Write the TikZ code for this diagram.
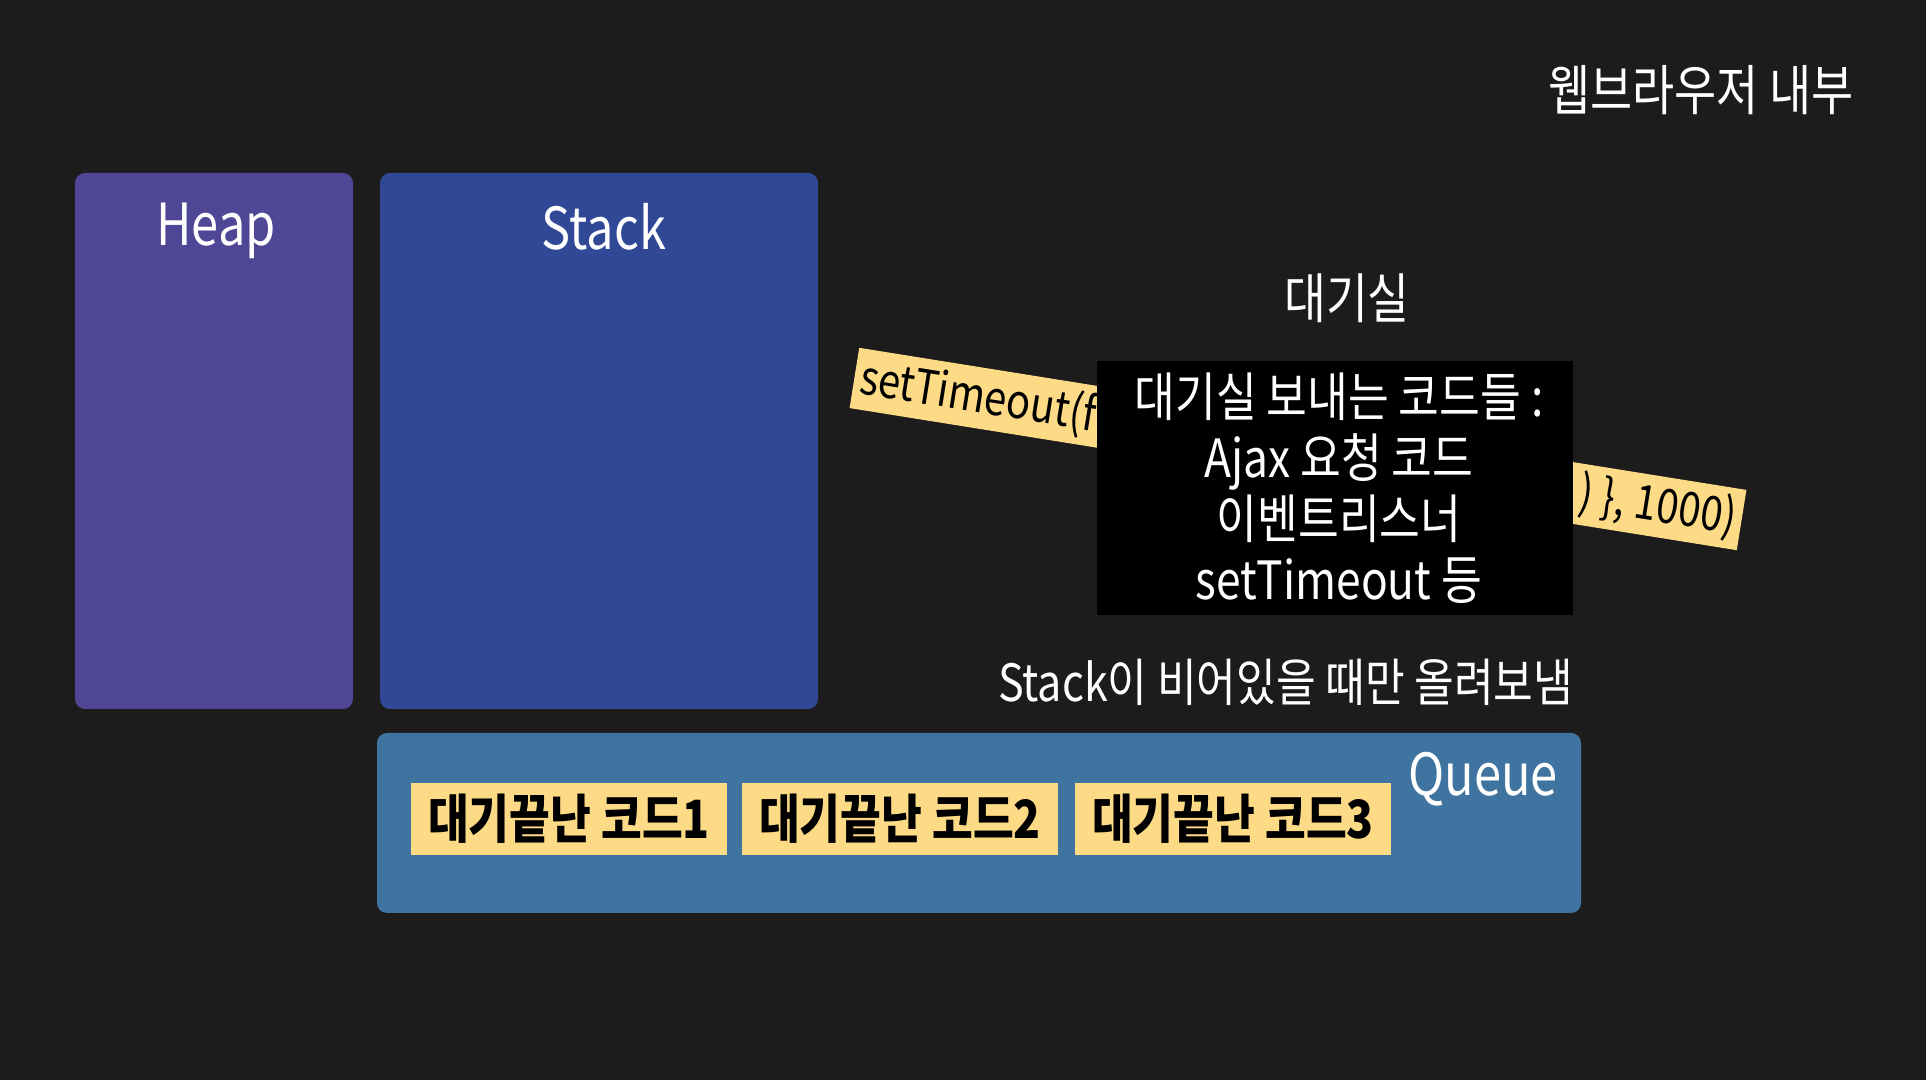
\documentclass[tikz,border=0pt]{standalone}
\usepackage{fontspec}
\setmainfont{Noto Sans CJK KR}[FakeStretch=0.84]
\usepackage{tikz}
\definecolor{bgdark}{HTML}{1C1C1C}
\definecolor{heapcol}{HTML}{4F4796}
\definecolor{stackcol}{HTML}{304896}
\definecolor{queuecol}{HTML}{3F74A0}
\definecolor{notecol}{HTML}{FDDB86}
\begin{document}
\begin{tikzpicture}[x=0.01cm,y=-0.01cm,
  area/.style={rounded corners=0.1cm},
  title/.style={text=white,inner sep=0pt,font=\fontsize{16.5}{20}\selectfont},
  caption/.style={text=white,inner sep=0pt,font=\fontsize{15}{17.4}\selectfont},
  waiting/.style={fill=notecol,minimum width=3.16cm,minimum height=0.72cm,inner sep=0pt,font=\bfseries\fontsize{15}{18}\selectfont},
  codeline/.style={inner sep=0.06cm,rotate=-9.1,font=\fontsize{13.5}{16}\selectfont}]
\useasboundingbox (0,0) rectangle (1926,1080);
\fill[bgdark] (0,0) rectangle (1926,1080);
% memory areas
\fill[heapcol,area] (75,173) rectangle (353,709);
\fill[stackcol,area] (380,173) rectangle (818,709);
\fill[queuecol,area] (377,733) rectangle (1581,913);
\node[title] (heap) at (216,231) {Heap};
\node[title] (stack) at (604,227) {Stack};
\node[title] (queue) at (1483,779) {Queue};
% queue contents
\node[waiting] (done1) at (569,819) {대기끝난 코드1};
\node[waiting] (done2) at (900,819) {대기끝난 코드2};
\node[waiting] (done3) at (1233,819) {대기끝난 코드3};
% waiting room
\node[title,font=\fontsize{15.4}{18}\selectfont] (room) at (1347,298) {대기실};
\node[fill=notecol,rotate=-9.1,minimum width=8.98cm,minimum height=0.61cm,inner sep=0pt] (strip) at (1298,449) {};
\node[codeline,anchor=west] (codeleft) at (strip.west) {setTimeout(f};
\node[codeline,anchor=east] (coderight) at (strip.east) {) \}, 1000)};
\node[fill=black,minimum width=4.75cm,minimum height=2.54cm,inner sep=0pt] (waitbox) at (1335,488) {};
\node[caption,align=center] (waitlist) at (1339,488) {대기실 보내는 코드들 :\\Ajax 요청 코드\\이벤트리스너\\setTimeout 등};
\node[caption,anchor=east,font=\fontsize{14.6}{17}\selectfont] (onlyempty) at (1574,682) {Stack이 비어있을 때만 올려보냄};
\node[title,font=\fontsize{15.5}{18}\selectfont] (browser) at (1701,90) {웹브라우저 내부};
\end{tikzpicture}
\end{document}
